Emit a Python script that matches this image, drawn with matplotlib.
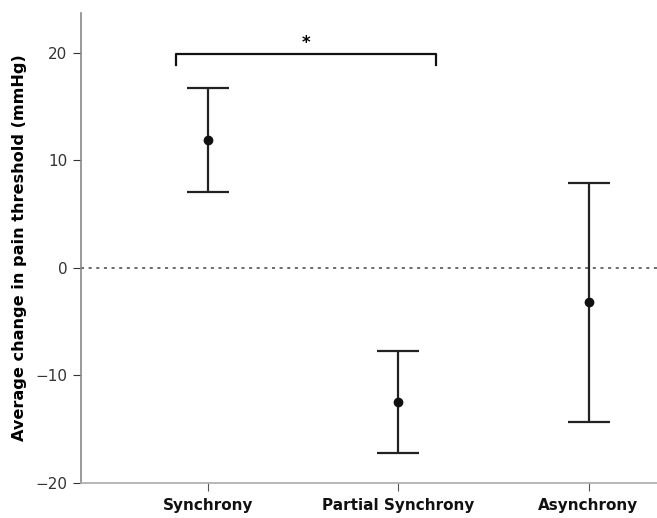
import matplotlib
matplotlib.use("Agg")
import matplotlib.pyplot as plt

# Data
conditions = ['Synchrony', 'Partial Synchrony', 'Asynchrony']
means = [11.9, -12.5, -3.2]
ci_low = [7.1, -17.2, -14.3]
ci_high = [16.7, -7.7, 7.9]

x = list(range(len(conditions)))
err_low = [m - lo for m, lo in zip(means, ci_low)]
err_high = [hi - m for m, hi in zip(means, ci_high)]

fig = plt.figure(figsize=(6.57, 5.18), dpi=100)
ax = fig.add_axes([0.123, 0.0676, 0.877, 0.907])

# reference line at zero
ax.axhline(0, color='#444444', linestyle=(0, (2, 3)), linewidth=1.1, zorder=1)

ax.errorbar(x, means, yerr=[err_low, err_high], fmt='o', color='#111111',
            ecolor='#222222', elinewidth=1.6, capsize=15, capthick=1.6,
            markersize=6, zorder=3)

# significance bracket between Synchrony and Partial Synchrony
bx0, bx1, by, bdrop = -0.17, 1.2, 19.9, 1.0
ax.plot([bx0, bx0, bx1, bx1], [by - bdrop, by, by, by - bdrop],
        color='#111111', linewidth=1.6, solid_joinstyle='round')
ax.text((bx0 + bx1) / 2, by + 0.2, '*', ha='center', va='bottom',
        fontsize=12, fontweight='bold')

ax.set_xlim(-0.67, 2.36)
ax.set_ylim(-20, 23.7)
ax.set_yticks([-20, -10, 0, 10, 20])
ax.set_xticks(x)
ax.set_xticklabels(conditions, fontsize=11, fontweight='bold')
ax.tick_params(axis='y', labelsize=11, colors='#333333', length=6)
ax.tick_params(axis='x', length=6, color='#555555', pad=5)
for lbl in ax.get_xticklabels():
    lbl.set_color('#111111')

ax.set_ylabel('Average change in pain threshold (mmHg)', fontsize=11.6,
              fontweight='bold', labelpad=6)

for side in ['top', 'right']:
    ax.spines[side].set_visible(False)
ax.spines['left'].set_color('#888888')
ax.spines['bottom'].set_color('#aaaaaa')
ax.spines['left'].set_linewidth(1.2)
ax.spines['bottom'].set_linewidth(1.2)

fig.savefig('out.png', dpi=100)
